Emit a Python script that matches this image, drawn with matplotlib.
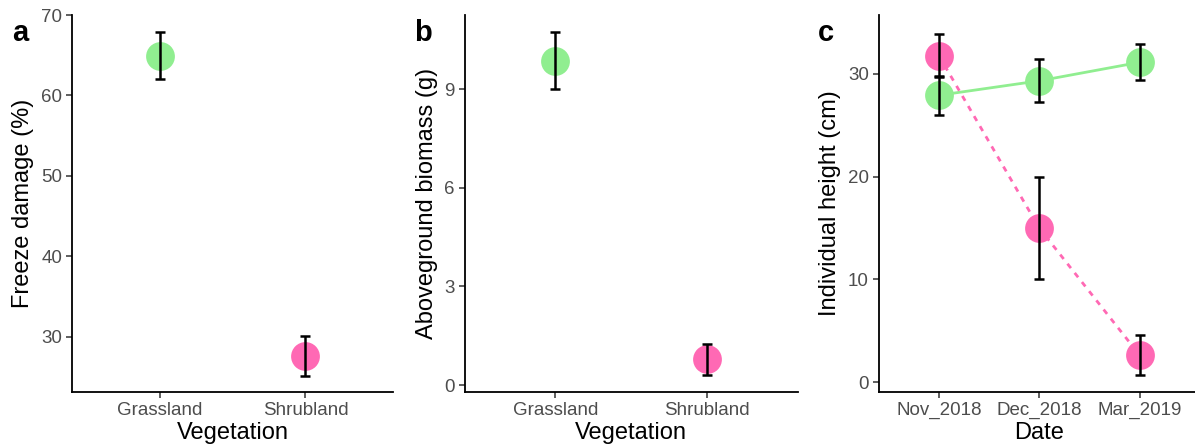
import matplotlib
matplotlib.use("Agg")
import matplotlib.pyplot as plt

plt.rcParams['font.family'] = ['Liberation Sans', 'DejaVu Sans']

# Panel a: freeze damage by vegetation
vegetation = ["Grassland", "Shrubland"]
freeze_mean = [64.95, 27.6]
freeze_se = [2.9, 2.5]

# Panel b: aboveground biomass by vegetation
biomass_mean = [9.86, 0.78]
biomass_se = [0.87, 0.46]

# Panel c: individual height over time
dates = ["Nov_2018", "Dec_2018", "Mar_2019"]
grass_height = [27.9, 29.3, 31.1]
grass_height_se = [1.9, 2.1, 1.75]
shrub_height = [31.75, 15.0, 2.66]
shrub_height_se = [2.1, 5.0, 1.9]

GREEN = "#90EE90"
PINK = "#FF69B4"
TICK_GREY = "#4D4D4D"

W, H = 1195, 447
fig = plt.figure(figsize=(W / 100, H / 100), dpi=100)


def axes_px(left, right, top, bottom):
    return fig.add_axes([left / W, 1 - bottom / H, (right - left) / W, (bottom - top) / H])


def style(ax, ylabel, xlabel, yticks):
    for s in ("top", "right"):
        ax.spines[s].set_visible(False)
    for s in ("left", "bottom"):
        ax.spines[s].set_linewidth(1.3)
        ax.spines[s].set_color("black")
    ax.set_yticks(yticks)
    ax.tick_params(axis="both", length=4, width=1.1, color="#333333",
                   labelsize=13.5, labelcolor=TICK_GREY, pad=3)
    ax.set_ylabel(ylabel, fontsize=17, labelpad=5)
    ax.set_xlabel(xlabel, fontsize=17, labelpad=2)
    ax.set_facecolor("white")
    return ax


def point_err(ax, x, y, e, color):
    ax.scatter(x, y, s=430, color=color, zorder=3, linewidths=0)
    ax.errorbar(x, y, yerr=e, fmt="none", ecolor="black", elinewidth=1.8,
                capsize=3.5, capthick=1.8, zorder=4)


# ---- a ----
ax_a = axes_px(72, 393, 15, 392)
xs = [1, 2]
for x, m, e, c in zip(xs, freeze_mean, freeze_se, [GREEN, PINK]):
    point_err(ax_a, x, m, e, c)
ax_a.set_xlim(0.4, 2.6)
ax_a.set_ylim(23.1, 70.0)
ax_a.set_xticks(xs)
ax_a.set_xticklabels(vegetation)
style(ax_a, "Freeze damage (%)", "Vegetation", [30, 40, 50, 60, 70])

# ---- b ----
ax_b = axes_px(464.7, 797.6, 15, 392)
for x, m, e, c in zip(xs, biomass_mean, biomass_se, [GREEN, PINK]):
    point_err(ax_b, x, m, e, c)
ax_b.set_xlim(0.4, 2.6)
ax_b.set_ylim(-0.21, 11.25)
ax_b.set_xticks(xs)
ax_b.set_xticklabels(vegetation)
style(ax_b, "Aboveground biomass (g)", "Vegetation", [0, 3, 6, 9])

# ---- c ----
ax_c = axes_px(878.7, 1199.7, 15, 392)
xd = [1, 2, 3]
ax_c.plot(xd, grass_height, color=GREEN, lw=2.0, zorder=2)
ax_c.plot(xd, shrub_height, color=PINK, lw=2.0, ls=(0, (2.0, 2.2)), zorder=2)
point_err(ax_c, xd, grass_height, grass_height_se, GREEN)
point_err(ax_c, xd, shrub_height, shrub_height_se, PINK)
ax_c.set_xlim(0.4, 3.6)
ax_c.set_ylim(-0.94, 35.7)
ax_c.set_xticks(xd)
ax_c.set_xticklabels(dates)
style(ax_c, "Individual height (cm)", "Date", [0, 10, 20, 30])

# Panel letters
for xpx, letter in [(12, "a"), (414, "b"), (818, "c")]:
    fig.text(xpx / W, 1 - 41 / H, letter, fontsize=21, fontweight="bold",
             ha="left", va="baseline")

fig.savefig("out.png", dpi=100, facecolor="white")
